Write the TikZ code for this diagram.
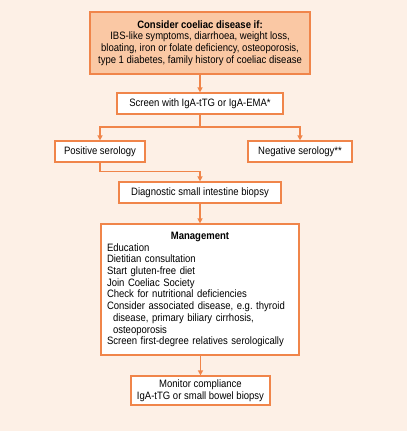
\documentclass[tikz,border=0pt]{standalone}
\usepackage{fontspec}
\setmainfont{Liberation Sans}[FakeStretch=0.89]
\usetikzlibrary{arrows.meta}
\definecolor{bgpeach}{HTML}{FDF0E6}
\definecolor{boxpeach}{HTML}{FAC8A4}
\definecolor{edgeorange}{HTML}{F0854A}
\frenchspacing

\begin{document}
\begin{tikzpicture}[
        x=1pt, y=-1pt,
        box/.style={rectangle, draw=edgeorange, line width=1.2pt, fill=white, align=center, inner sep=0pt, font=\fontsize{10.7}{11.7}\selectfont},
        arrow/.style={-{Triangle[length=5pt,width=5pt]}, draw=edgeorange, line width=1.3pt},
        link/.style={draw=edgeorange, line width=1.3pt}
      ]
        % Background
        \fill[bgpeach] (0,0) rectangle (407,431);

        % Top level
        \node[box, fill=boxpeach, minimum width=220pt, minimum height=62pt] (consider) at (200,43)
          {\textbf{Consider coeliac disease if:}\\IBS-like symptoms, diarrhoea, weight loss,\\bloating, iron or folate deficiency, osteoporosis,\\type 1 diabetes, family history of coeliac disease};

        % Screening
        \node[box, minimum width=166pt, minimum height=21pt] (screen) at (200,103.5) {Screen with IgA-tTG or IgA-EMA*};
        \coordinate (split) at (200,127);

        % Serology results
        \node[box, minimum width=90pt, minimum height=21pt] (positive) at (100,151.5) {Positive serology};
        \node[box, minimum width=104pt, minimum height=21pt] (negative) at (300,151.5) {Negative serology**};

        % Biopsy and management
        \node[box, align=left, text width=186pt, inner xsep=6pt, minimum height=131pt] (management) at (200,289.5)
          {\makebox[186pt]{\textbf{Management}}\\
           Education\\
           Dietitian consultation\\
           Start gluten-free diet\\
           Join Coeliac Society\\
           Check for nutritional deficiencies\\
           Consider associated disease, e.g. thyroid\\
           \hspace*{6pt}disease, primary biliary cirrhosis,\\
           \hspace*{6pt}osteoporosis\\
           Screen first-degree relatives serologically};
        \node[box, minimum width=162pt, minimum height=21pt] (biopsy) at (200,192.5) {Diagnostic small intestine biopsy};
        \node[box, minimum width=139pt, minimum height=29pt] (monitor) at (200.5,390.5) {Monitor compliance\\IgA-tTG or small bowel biopsy};

        % Arrows
        \draw[arrow] (consider) -- (screen);
        \draw[link] (screen) -- (split);
        \draw[arrow] (split) -| (positive);
        \draw[arrow] (split) -| (negative);
        \draw[arrow] (positive.south) -- ++(0,9) -| (biopsy.north);
        \draw[arrow] (biopsy) -- (management);
        \draw[arrow] (management.south -| monitor.north) -- (monitor);
      \end{tikzpicture}
\end{document}
